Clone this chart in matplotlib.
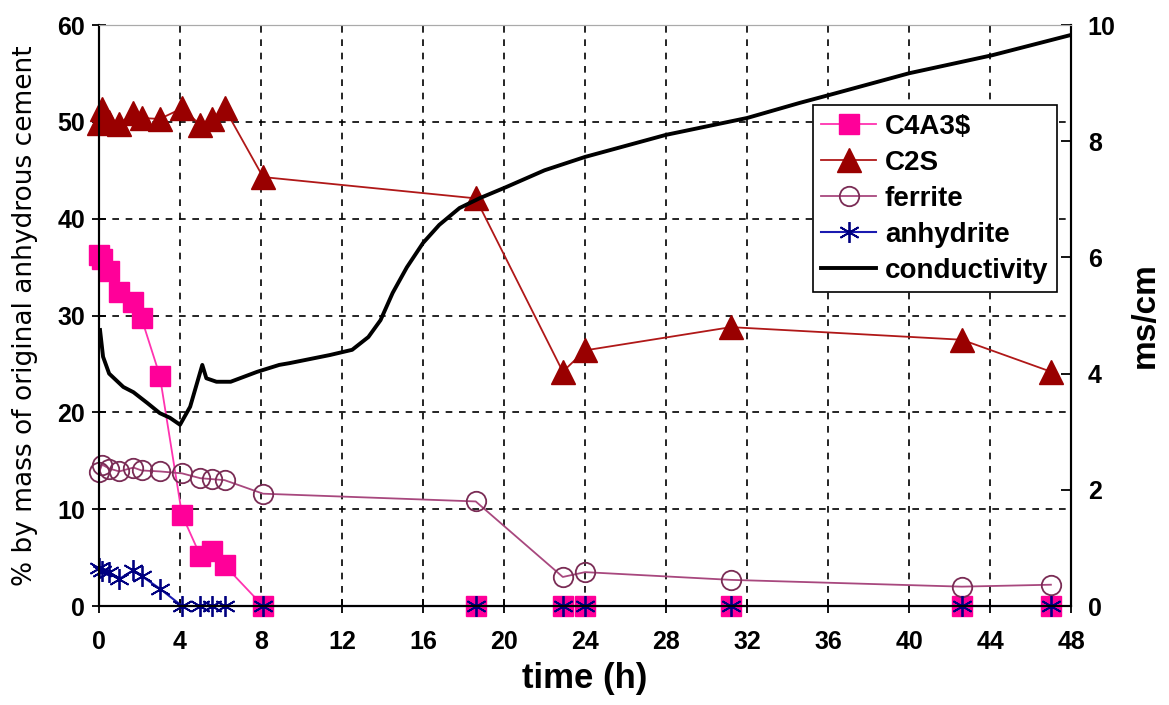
import matplotlib.pyplot as plt

plt.rcParams['font.family'] = ['Liberation Sans', 'DejaVu Sans']

# sample times (h)
time_h = [0.0, 0.15, 0.5, 1.0, 1.7, 2.1, 3.0, 4.1, 5.0, 5.6, 6.2, 8.1, 18.6, 22.9, 24.0, 31.2, 42.6, 47.0]

# phases, % by mass of original anhydrous cement
c4a3s = [36.2, 35.8, 34.6, 32.4, 31.4, 29.7, 23.8, 9.4, 5.2, 5.7, 4.2, 0, 0, 0, 0, 0, 0, 0]
c2s = [49.9, 51.3, 50.0, 49.8, 50.9, 50.4, 50.3, 51.4, 49.7, 50.3, 51.4, 44.3, 42.1, 24.2, 26.4, 28.8, 27.5, 24.2]
ferrite = [13.8, 14.6, 14.2, 13.9, 14.3, 14.0, 13.9, 13.7, 13.2, 13.1, 13.0, 11.6, 10.8, 3.0, 3.5, 2.7, 2.0, 2.2]
anhydrite = [3.9, 3.6, 3.5, 2.8, 3.7, 3.1, 1.8, 0, 0, 0, 0, 0, 0, 0, 0, 0, 0, 0]

# conductivity (ms/cm)
cond_t = [0.05, 0.2, 0.5, 1.2, 1.7, 2.4, 3.0, 3.5, 4.0, 4.5, 5.1, 5.3, 5.8, 6.5, 7.8, 8.9, 9.4,
          11.4, 12.5, 13.3, 13.9, 14.5, 15.2, 16.0, 16.8, 17.8, 18.8, 20.1, 22.0, 24.0, 28.0,
          32.0, 34.6, 36.1, 40.0, 44.1, 48.0]
cond = [4.75, 4.29, 4.0, 3.77, 3.68, 3.49, 3.32, 3.24, 3.12, 3.43, 4.15, 3.92, 3.86, 3.86, 4.03, 4.15, 4.18,
        4.32, 4.41, 4.63, 4.92, 5.39, 5.83, 6.25, 6.56, 6.85, 7.02, 7.21, 7.5, 7.73, 8.11,
        8.40, 8.66, 8.8, 9.17, 9.48, 9.83]

x_ticks = list(range(0, 49, 4))
y_ticks = list(range(0, 61, 10))
y2_ticks = list(range(0, 11, 2))

fig = plt.figure(figsize=(11.69, 7.05), dpi=100)
ax = fig.add_axes([0.0847, 0.1404, 0.8316, 0.8241])
ax2 = ax.twinx()

h1, = ax.plot(time_h, c4a3s, color='#FF33B0', lw=1.3, marker='s', ms=15,
              mfc='#FF0099', mec='#FF0099', label='C4A3$', clip_on=False, zorder=3)
h2, = ax.plot(time_h, c2s, color='#B01818', lw=1.3, marker='^', ms=17,
              mfc='#990000', mec='#990000', label='C2S', clip_on=False, zorder=3)
h3, = ax.plot(time_h, ferrite, color='#A8487E', lw=1.3, marker='o', ms=14,
              mfc='none', mec='#7A2C55', mew=1.3, label='ferrite', clip_on=False, zorder=3)
h4, = ax.plot(time_h, anhydrite, color='#1A1AB0', lw=1.5, marker=(6, 2, 0), ms=15,
              mec='#000080', mew=1.3, label='anhydrite', clip_on=False, zorder=4)
h5, = ax2.plot(cond_t, cond, color='black', lw=2.8, label='conductivity')

ax.set_xlim(0, 48)
ax.set_ylim(0, 60)
ax2.set_ylim(0, 10)
ax.set_xticks(x_ticks)
ax.set_yticks(y_ticks)
ax2.set_yticks(y2_ticks)

ax.grid(True, color='black', linestyle=(0, (4, 4)), lw=1.2)
ax.set_axisbelow(True)

for a in (ax, ax2):
    a.spines['top'].set_color('#AAAAAA')
    a.spines['left'].set_linewidth(1.5)
    a.spines['right'].set_linewidth(1.5)
    a.spines['bottom'].set_linewidth(1.5)

ax.tick_params(axis='x', direction='inout', length=10, width=1.3, labelsize=18, pad=12)
ax.tick_params(axis='y', direction='inout', length=10, width=1.3, labelsize=18, pad=5)
ax2.tick_params(axis='y', direction='in', length=7, width=1.3, labelsize=18, pad=12)
for lab in ax.get_xticklabels() + ax.get_yticklabels() + ax2.get_yticklabels():
    lab.set_fontweight('bold')

ax.set_xlabel('time (h)', fontsize=25, fontweight='bold', labelpad=6)
ax.set_ylabel('% by mass of original anhydrous cement', fontsize=19,
              family=['DejaVu Sans'], labelpad=14)
ax2.set_ylabel('ms/cm', fontsize=24, fontweight='bold', labelpad=10)

leg = ax2.legend(handles=[h1, h2, h3, h4, h5], loc='upper left',
                 bbox_to_anchor=(0.734, 0.862), fontsize=20, frameon=True,
                 fancybox=False, edgecolor='black', framealpha=1,
                 handlelength=2.0, handletextpad=0.3, borderpad=0.3,
                 labelspacing=0.36, borderaxespad=0)
leg.get_frame().set_linewidth(1.2)
for t in leg.get_texts():
    t.set_fontweight('bold')

plt.savefig('out.png', dpi=100)
